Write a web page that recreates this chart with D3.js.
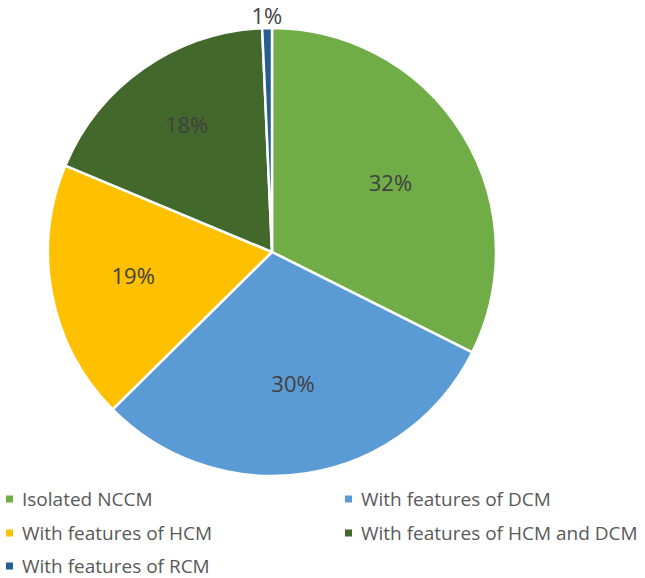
<!DOCTYPE html>
<html>
<head>
<meta charset="utf-8">
<script src="https://cdn.jsdelivr.net/npm/d3@7"></script>
<style>
  body { margin: 0; background: #fff; }
  svg { display: block; }
</style>
</head>
<body>
<div id="chart"></div>
<script>
// chart data
var categories = ["Isolated NCCM", "With features of DCM", "With features of HCM",
                  "With features of HCM and DCM", "With features of RCM"];
var shares = [32.4, 30.2, 18.7, 18.0, 0.7];
var colors = ["#70AD47", "#5B9BD5", "#FFC000", "#43682B", "#255E91"];

// label placement (polar: radius, angle nudge in degrees) - mimics excel best fit
var labelRadius = [137, 134, 141, 153, 236];
var labelNudge = [1.5, 0, 1, 1, 0];

var width = 645, height = 578;
var cx = 272, cy = 252, r = 224;

var svg = d3.select("#chart").append("svg")
    .attr("width", width)
    .attr("height", height);

var pie = d3.pie().sort(null).value(function (d) { return d; });
var arcs = pie(shares);

var arc = d3.arc().innerRadius(0).outerRadius(r);

var g = svg.append("g").attr("transform", "translate(" + cx + "," + cy + ")");

g.selectAll("path")
    .data(arcs)
    .enter().append("path")
    .attr("d", arc)
    .attr("fill", function (d, i) { return colors[i]; })
    .attr("stroke", "#fff")
    .attr("stroke-width", 2.5)
    .attr("stroke-linejoin", "round");

var fmt = function (v) { return Math.round(v) + "%"; };

g.selectAll("text.lbl")
    .data(arcs)
    .enter().append("text")
    .attr("class", "lbl")
    .attr("x", function (d, i) {
        var a = (d.startAngle + d.endAngle) / 2 + labelNudge[i] * Math.PI / 180;
        return labelRadius[i] * Math.sin(a);
    })
    .attr("y", function (d, i) {
        var a = (d.startAngle + d.endAngle) / 2 + labelNudge[i] * Math.PI / 180;
        return -labelRadius[i] * Math.cos(a);
    })
    .attr("dy", "0.36em")
    .attr("text-anchor", "middle")
    .attr("font-family", "'Open Sans', sans-serif")
    .attr("font-size", "22px")
    .attr("fill", "#404040")
    .text(function (d) { return fmt(d.data); });

// legend, two columns
var colX = [6, 345], rowY = [499, 533, 566];
var leg = svg.selectAll("g.leg")
    .data(categories)
    .enter().append("g")
    .attr("class", "leg")
    .attr("transform", function (d, i) {
        return "translate(" + colX[i % 2] + "," + rowY[Math.floor(i / 2)] + ")";
    });

leg.append("rect")
    .attr("x", 0).attr("y", -3.5)
    .attr("width", 7).attr("height", 7)
    .attr("fill", function (d, i) { return colors[i]; });

leg.append("text")
    .attr("x", 16)
    .attr("y", 0)
    .attr("dy", "0.36em")
    .attr("font-family", "'Open Sans', sans-serif")
    .attr("font-size", "19px")
    .attr("fill", "#595959")
    .text(function (d) { return d; });
</script>
</body>
</html>
